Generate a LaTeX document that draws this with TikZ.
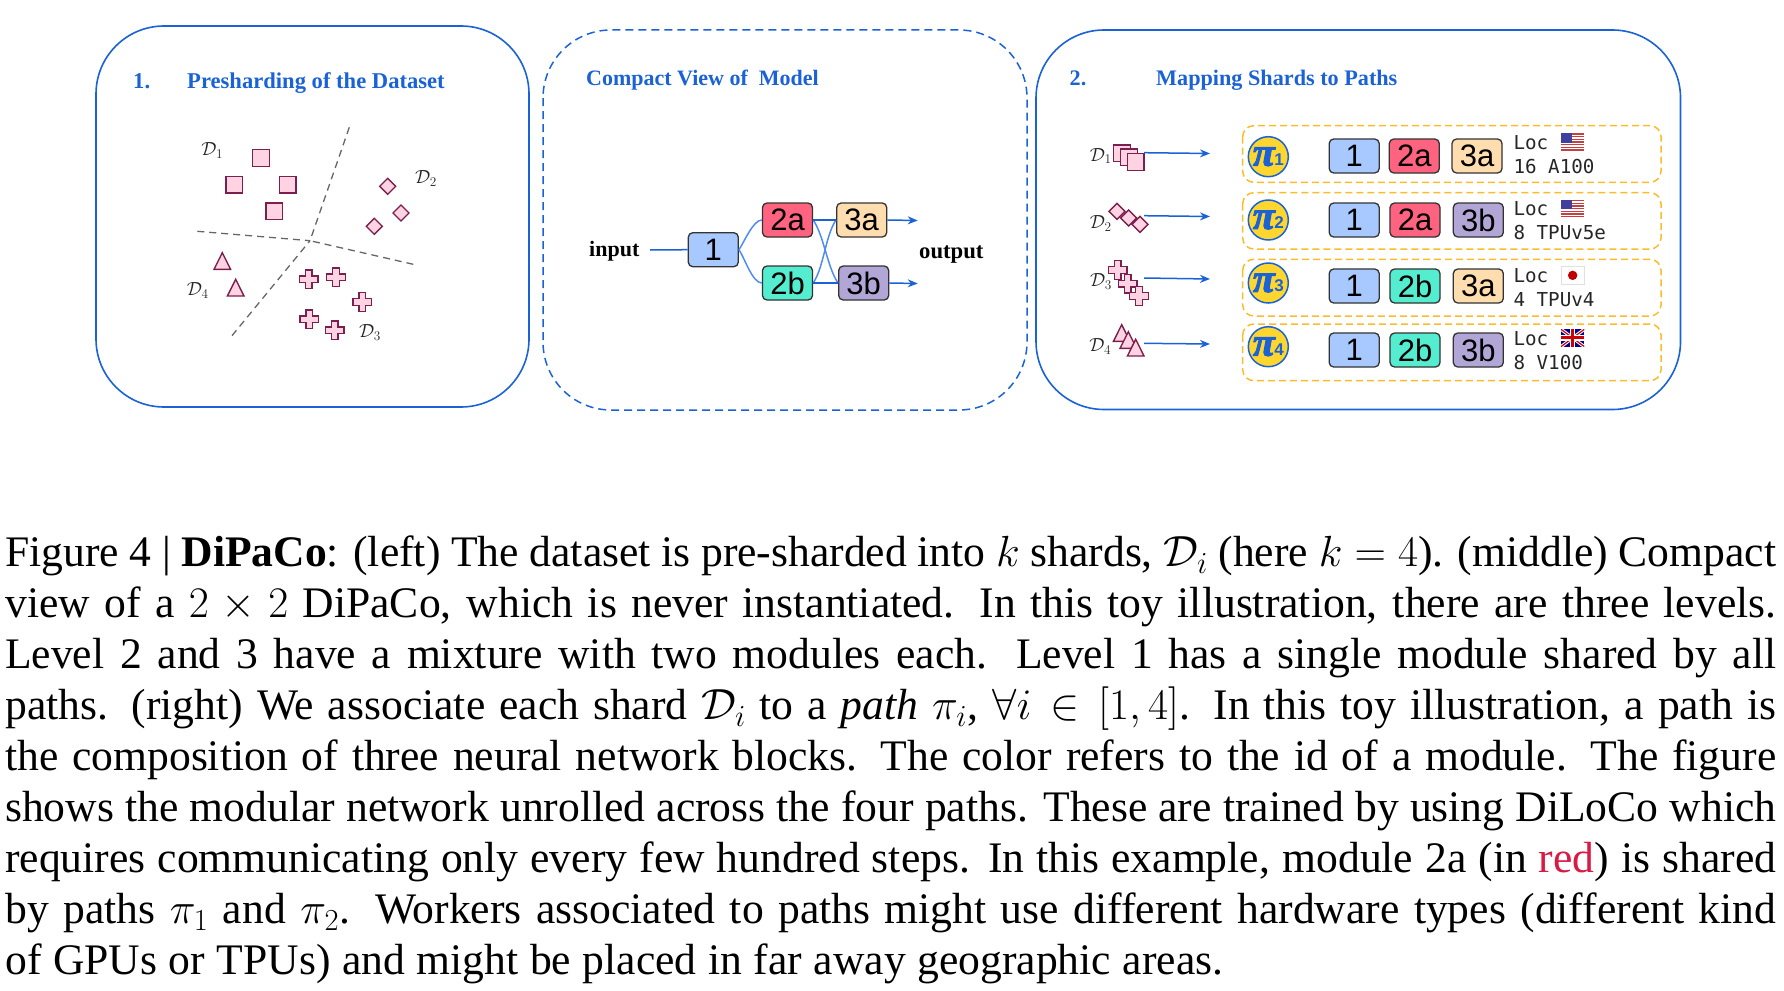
\documentclass[tikz,border=0pt]{standalone}
\usepackage{fix-cm}
\usepackage{fontspec}
\setmainfont{Liberation Serif}
\newfontfamily\boxfont{Liberation Sans}
\newfontfamily\locfont{DejaVu Sans Mono}
\newfontfamily\pifont[BoldItalicFeatures={FakeBold=2.5}]{Liberation Serif}
\usetikzlibrary{arrows.meta,calc}
\definecolor{pblue}{HTML}{1A62D6}
\definecolor{lblue}{HTML}{4F8CF0}
\definecolor{plum}{HTML}{7A1F4E}
\definecolor{pinkf}{HTML}{FFD3E2}
\definecolor{m1}{HTML}{A8C9FF}
\definecolor{m2a}{HTML}{FF637F}
\definecolor{m2b}{HTML}{55EDCF}
\definecolor{m3a}{HTML}{FFDDAF}
\definecolor{m3b}{HTML}{B1A6D6}
\definecolor{gold}{HTML}{FFD62E}
\definecolor{dashy}{HTML}{FBBC2C}
\definecolor{redw}{HTML}{D81B45}
\newcommand{\fs}[1]{\fontsize{#1}{#1}\selectfont}
\tikzset{
  panel/.style={draw=pblue,line width=1.6pt,rounded corners=68pt},
  dpanel/.style={draw=pblue,line width=1.5pt,rounded corners=68pt,dash pattern=on 8pt off 5pt},
  ttl/.style={text=pblue,anchor=base west,inner sep=0pt,font=\fs{22.6}\bfseries},
  iolabel/.style={text=black,anchor=base west,inner sep=0pt,font=\fs{22}\bfseries},
  modbox/.style={draw=black!80,line width=1.3pt,rounded corners=4.5pt,minimum width=50pt,minimum height=34pt,inner sep=0pt,font=\boxfont\fs{31},text=black},
  shard/.style={draw=plum,fill=pinkf,line width=1.4pt},
  sdash/.style={draw=black!60,line width=1.3pt,dash pattern=on 7pt off 5pt},
  dlab/.style={inner sep=0pt,text=black!85,font=\fs{19}},
  conn/.style={draw=pblue,line width=1.5pt},
  soft/.style={draw=lblue,line width=1.5pt},
  arr/.style={draw=pblue,line width=1.5pt,-{Stealth[length=10pt,width=8pt]}},
  pathbox/.style={draw=dashy,line width=1.5pt,rounded corners=11pt,dash pattern=on 7pt off 4pt},
  picirc/.style={circle,draw=pblue,line width=1.5pt,fill=gold,minimum size=40pt,inner sep=0pt,text=pblue},
  loc/.style={anchor=base west,inner sep=0pt,font=\locfont\fs{19.2},text=black!85},
  capl/.style={anchor=base west,inner sep=0pt,font=\fs{43.6}},
}
\newcommand{\sqm}[3]{\draw[shard] (#1-#3,#2-#3) rectangle (#1+#3,#2+#3);}
\newcommand{\dia}[3]{\draw[shard] (#1-#3,#2) -- (#1,#2-#3) -- (#1+#3,#2) -- (#1,#2+#3) -- cycle;}
\newcommand{\tri}[2]{\draw[shard] (#1,#2) -- (#1+8.3,#2+16.7) -- (#1-8.3,#2+16.7) -- cycle;}
\newcommand{\crs}[2]{\draw[shard] (#1-3.3,#2-9.3) -- (#1+3.3,#2-9.3) -- (#1+3.3,#2-3.3) -- (#1+9.3,#2-3.3) -- (#1+9.3,#2+3.3) -- (#1+3.3,#2+3.3) -- (#1+3.3,#2+9.3) -- (#1-3.3,#2+9.3) -- (#1-3.3,#2+3.3) -- (#1-9.3,#2+3.3) -- (#1-9.3,#2-3.3) -- (#1-3.3,#2-3.3) -- cycle;}
\newcommand{\usflag}[2]{\begin{scope}[shift={(#1,#2)}]
  \fill[white] (0,0) rectangle (23.3,17.3);
  \foreach \k in {0,1,2,3,4,5,6}{\fill[red!70!black!75] (0,\k*2.67) rectangle (23.3,\k*2.67+1.33);}
  \fill[blue!50!black!75] (0,0) rectangle (10.5,9.3);
\end{scope}}
\newcommand{\jpflag}[2]{\begin{scope}[shift={(#1,#2)}]
  \filldraw[fill=white,draw=black!12,line width=.6pt] (0,0) rectangle (23.3,17.3);
  \fill[red!75!black] (11.65,8.65) circle (4.7);
\end{scope}}
\newcommand{\ukflag}[2]{\begin{scope}[shift={(#1,#2)}]
  \clip (0,0) rectangle (23.3,17.3);
  \fill[blue!55!black] (0,0) rectangle (23.3,17.3);
  \draw[white,line width=3.2pt] (0,0) -- (23.3,17.3) (0,17.3) -- (23.3,0);
  \draw[red!80!black,line width=1.2pt] (0,0) -- (23.3,17.3) (0,17.3) -- (23.3,0);
  \draw[white,line width=5.5pt] (11.65,0) -- (11.65,17.3) (0,8.65) -- (23.3,8.65);
  \draw[red!80!black,line width=3pt] (11.65,0) -- (11.65,17.3) (0,8.65) -- (23.3,8.65);
\end{scope}}
\newcommand{\capline}[3]{\node[capl] (#1) at (5,#2) {\hbox to 1771pt{#3}};}
\newcommand{\pilab}[1]{{\pifont\fs{40}\bfseries\itshape π}\kern-.5pt{\boxfont\fs{17}\bfseries #1}}
\begin{document}
\begin{tikzpicture}[x=1pt,y=-1pt]
\useasboundingbox (0,0) rectangle (1784,990);
% panels
\draw[panel] (96,26) rectangle (529,407);
\draw[dpanel] (543,30) rectangle (1027,410);
\draw[panel] (1036,30) rectangle (1680.5,409.5);
% titles
\node[ttl] (t1a) at (133,88) {1.};
\node[ttl] (t1b) at (187,88) {Presharding of the Dataset};
\node[ttl,font=\fs{22}\bfseries] (t2) at (586,85) {Compact View of\ \ Model};
\node[ttl,font=\fs{22.2}\bfseries] (t3a) at (1069.5,85) {2.};
\node[ttl,font=\fs{22.2}\bfseries] (t3b) at (1156,85) {Mapping Shards to Paths};
% panel 1 partition
\coordinate (c0) at (310,240.7);
\coordinate (cu) at (349.3,127.3);
\coordinate (cl) at (197.3,231.3);
\coordinate (cr) at (413.3,264.3);
\coordinate (cd) at (232,335.7);
\draw[sdash] (cu) -- (c0);
\draw[sdash] (cl) -- (c0);
\draw[sdash] (cr) -- (c0);
\draw[sdash] (cd) -- (c0);
\sqm{261}{158}{8.3}\sqm{234.3}{184.7}{8.3}\sqm{287.7}{184.7}{8.3}\sqm{274.3}{211.3}{8.3}
\dia{387.7}{186.3}{8}\dia{401}{213}{8}\dia{374.3}{226.3}{8}
\tri{222.3}{252.7}\tri{235.7}{279.3}
\crs{308.7}{279.3}\crs{336}{277.3}\crs{362.3}{302}\crs{309.3}{319.3}\crs{334.7}{330.3}
\node[dlab] (d1) at (212.3,150.7) {$\mathcal{D}_1$};
\node[dlab] (d2) at (426,178.3) {$\mathcal{D}_2$};
\node[dlab] (d3) at (370,332.7) {$\mathcal{D}_3$};
\node[dlab] (d4) at (197.7,290.7) {$\mathcal{D}_4$};
% panel 2
\node[iolabel] (inp) at (589,256) {input};
\node[iolabel,font=\fs{22.7}\bfseries] (outp) at (919,258) {output};
\node[modbox,fill=m1] (n1) at (713.3,249.7) {1};
\node[modbox,fill=m2a] (n2a) at (787.5,220) {2a};
\node[modbox,fill=m2b] (n2b) at (787.5,283) {2b};
\node[modbox,fill=m3a] (n3a) at (861.7,220) {3a};
\node[modbox,fill=m3b] (n3b) at (863.7,283) {3b};
\coordinate (is) at (650,250);
\coordinate (o3a) at (917.7,220.5);
\coordinate (o3b) at (917.7,283.5);
\draw[conn] (is) -- (n1.west);
\draw[soft] (n1.east) to[out=-55,in=180,looseness=.6] (n2b.west);
\draw[soft] (n1.east) to[out=55,in=180,looseness=.6] (n2a.west);
\draw[soft] (n2a.east) to[out=-55,in=125,looseness=.7] (n3b.west);
\draw[soft] (n2b.east) to[out=55,in=-125,looseness=.7] (n3a.west);
\draw[conn] (n2a.east) -- (n3a.west);
\draw[conn] (n2b.east) -- (n3b.west);
\draw[arr] (n3a.east) -- (o3a);
\draw[arr] (n3b.east) -- (o3b);
% panel 3 path boxes
\draw[pathbox] (1242.7,125.7) rectangle (1661,182.3);
\draw[pathbox] (1242.7,192.7) rectangle (1661,249);
\draw[pathbox] (1242.7,259.3) rectangle (1661,316);
\draw[pathbox] (1242.7,324) rectangle (1661,380.7);
% stacked shards
\sqm{1122}{153.3}{8.3}\sqm{1129}{157.3}{8.3}\sqm{1135.7}{162}{8.3}
\dia{1117}{211.3}{8}\dia{1128.7}{218}{8}\dia{1140}{224.3}{8}
\crs{1117.7}{270}\crs{1127.7}{283.7}\crs{1139}{296}
\tri{1121.7}{324.7}\tri{1128.3}{331.7}\tri{1135.7}{339.3}
\node[dlab,font=\fs{19}] (e1) at (1100.7,156) {$\mathcal{D}_1$};
\node[dlab,font=\fs{19}] (e2) at (1100.7,223.3) {$\mathcal{D}_2$};
\node[dlab,font=\fs{19}] (e3) at (1101,281.7) {$\mathcal{D}_3$};
\node[dlab,font=\fs{19}] (e4) at (1100.3,346.7) {$\mathcal{D}_4$};
% pi circles
\node[picirc] (p1) at (1268.3,156.7) {\pilab{1}};
\node[picirc] (p2) at (1268.3,220) {\pilab{2}};
\node[picirc] (p3) at (1268.3,283) {\pilab{3}};
\node[picirc] (p4) at (1268.3,346.7) {\pilab{4}};
% arrows shards to paths
\coordinate (s1) at (1144,152.7);
\coordinate (s2) at (1144,215.7);
\coordinate (s3) at (1144,278);
\coordinate (s4) at (1144,343.3);
\coordinate (f1) at (1210,153.5);
\coordinate (f2) at (1210,216.5);
\coordinate (f3) at (1210,279);
\coordinate (f4) at (1210,344);
\draw[arr] (s1) -- (f1);
\draw[arr] (s2) -- (f2);
\draw[arr] (s3) -- (f3);
\draw[arr] (s4) -- (f4);
% modules per path
\node[modbox,fill=m1] (r1a) at (1354.2,156) {1};
\node[modbox,fill=m2a] (r1b) at (1414.3,156) {2a};
\node[modbox,fill=m3a] (r1c) at (1477,156) {3a};
\node[modbox,fill=m1] (r2a) at (1354.2,220) {1};
\node[modbox,fill=m2a] (r2b) at (1415,220) {2a};
\node[modbox,fill=m3b] (r2c) at (1478.3,220) {3b};
\node[modbox,fill=m1] (r3a) at (1354.2,286) {1};
\node[modbox,fill=m2b] (r3b) at (1415,286) {2b};
\node[modbox,fill=m3a] (r3c) at (1478.3,286) {3a};
\node[modbox,fill=m1] (r4a) at (1354.2,350) {1};
\node[modbox,fill=m2b] (r4b) at (1415,350) {2b};
\node[modbox,fill=m3b] (r4c) at (1478.3,350) {3b};
% locations
\node[loc] (l1a) at (1513.3,149) {Loc};
\node[loc] (l1b) at (1513.3,173.3) {16 A100};
\node[loc] (l2a) at (1513.3,215.7) {Loc};
\node[loc] (l2b) at (1513.3,239.3) {8 TPUv5e};
\node[loc] (l3a) at (1513.3,282.3) {Loc};
\node[loc] (l3b) at (1513.3,306) {4 TPUv4};
\node[loc] (l4a) at (1513.3,345) {Loc};
\node[loc] (l4b) at (1513.3,369.3) {8 V100};
\usflag{1561}{133.3}
\usflag{1561}{200}
\jpflag{1561}{266.7}
\ukflag{1561}{329.3}
% caption
\capline{c1}{566.5}{Figure 4 | \textbf{DiPaCo}: (left) The dataset is pre-sharded into $k$ shards, $\mathcal{D}_i$ (here $k=4$). (middle) Compact}
\capline{c2}{617.5}{view of a $2\times 2$ DiPaCo, which is never instantiated. In this toy illustration, there are three levels.}
\capline{c3}{668.5}{Level 2 and 3 have a mixture with two modules each. Level 1 has a single module shared by all}
\capline{c4}{719.5}{paths. (right) We associate each shard $\mathcal{D}_i$ to a \textit{path} $\pi_i$, $\forall i\in[1,4]$. In this toy illustration, a path is}
\capline{c5}{770.5}{the composition of three neural network blocks. The color refers to the id of a module. The figure}
\capline{c6}{821.5}{shows the modular network unrolled across the four paths. These are trained by using DiLoCo which}
\capline{c7}{872.5}{requires communicating only every few hundred steps. In this example, module 2a (in \textcolor{redw}{red}) is shared}
\capline{c8}{923.5}{by paths $\pi_1$ and $\pi_2$. Workers associated to paths might use different hardware types (different kind}
\node[capl] (c9) at (5,974.5) {\hbox to 1218pt{of GPUs or TPUs) and might be placed in far away geographic areas.}};
\end{tikzpicture}
\end{document}
